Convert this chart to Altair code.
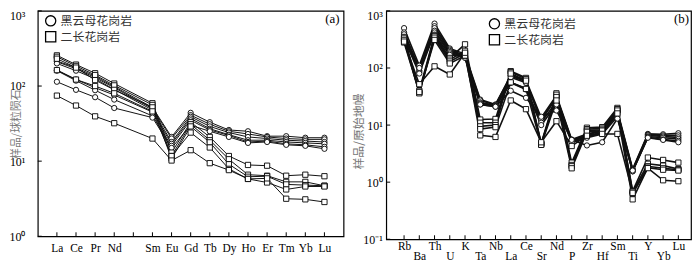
import json
import altair as alt
import pandas as pd

BG = "黑云母花岗岩"
MG = "二长花岗岩"
LEGEND_LABELS = [BG, MG]

# ---------------- panel (a): chondrite-normalised REE ----------------
REE_TICK_LABELS = ["La", "Ce", "Pr", "Nd", "", "Sm", "Eu", "Gd", "Tb", "Dy", "Ho", "Er", "Tm", "Yb", "Lu"]
REE_POSITIONS = [0, 1, 2, 3, 5, 6, 7, 8, 9, 10, 11, 12, 13, 14]

REE_BT1 = [215, 176, 135, 98, 52, 21, 44, 33, 26, 25, 21.5, 21.5, 20.5, 20.5]
REE_BT2 = [210, 170, 130, 95, 50, 20, 41, 31, 25, 23, 21, 20, 19.5, 19.5]
REE_BT3 = [200, 160, 125, 90, 48, 18, 39, 29, 24, 21, 20, 19, 18.5, 18]
REE_BT4 = [163, 122, 95, 76, 45, 17, 37, 27, 22.5, 19, 19, 18, 17.5, 17]
REE_BT5 = [160, 118, 88, 66, 40, 16, 35, 26, 22, 18, 18.5, 17, 16.5, 15.5]
REE_BT6 = [114, 89, 71, 51, 38, 15, 30, 25, 21, 17.5, 18, 16.5, 16, 14.6]

REE_MZ1 = [256, 193, 148, 108, 59, 13, 33, 21, 11.7, 8.9, 8.7, 6.4, 6.6, 6.3]
REE_MZ2 = [245, 185, 140, 102, 56, 11.7, 31, 19, 10.6, 6.6, 6.4, 5.3, 5.3, 4.7]
REE_MZ3 = [231, 176, 120, 89, 52, 10.8, 29, 17.8, 9.1, 6.2, 6.3, 4.9, 4.8, 4.7]
REE_MZ4 = [163, 122, 100, 80, 46, 11.7, 24, 15.2, 7.9, 5.8, 5.2, 4.2, 4.6, 4.6]
REE_MZ5 = [74.5, 55, 39.5, 32, 20, 10.2, 14, 9.4, 7.6, 5.8, 5.9, 3.16, 3.1, 2.86]

# ---------------- panel (b): primitive-mantle-normalised spider ----------------
SP_TICK_LABELS = ["Rb", "Ba", "Th", "U", "K", "Ta", "Nb", "La", "Ce", "Sr",
                  "Nd", "P", "Zr", "Hf", "Sm", "Ti", "Y", "Yb", "Lu"]
SP_POSITIONS = list(range(19))

SP_BT1 = [500, 110, 600, 220, 175, 28, 23, 74, 61, 13.5, 33, 5.6, 7.0, 8.0, 18, 1.7, 7.0, 6.9, 7.2]
SP_BT2 = [420, 100, 540, 210, 165, 27, 22.5, 72, 58, 12.5, 31, 5.4, 6.8, 7.8, 17, 1.65, 6.8, 6.6, 6.6]
SP_BT3 = [390, 90, 500, 200, 160, 25, 22, 69, 55, 12, 30, 5.3, 6.5, 7.5, 16.5, 1.6, 6.6, 6.3, 6.1]
SP_BT4 = [350, 85, 450, 190, 155, 24, 21.5, 56, 44, 11, 26, 5.2, 6.3, 7.2, 15.5, 1.55, 6.3, 6.0, 5.7]
SP_BT5 = [330, 80, 420, 180, 150, 23, 21, 55, 42, 10, 23, 5.0, 6.0, 7.0, 14, 1.55, 6.1, 5.6, 5.3]
SP_BT6 = [300, 100, 380, 170, 160, 23, 21, 40, 30, 14, 18, 5.5, 4.4, 5.0, 13, 1.6, 6.0, 5.5, 5.0]

SP_MZ1 = [350, 40, 380, 150, 260, 12.5, 12.8, 88, 67, 4.8, 36, 2.2, 9.0, 9.2, 20, 0.7, 2.7, 2.45, 2.2]
SP_MZ2 = [330, 37, 360, 140, 200, 11, 11, 85, 64, 4.7, 34, 2.0, 8.5, 8.7, 19, 0.68, 2.1, 1.95, 1.7]
SP_MZ3 = [310, 36, 340, 130, 180, 9.5, 10, 80, 60, 4.6, 31, 1.9, 8.0, 8.3, 18, 0.62, 1.9, 1.75, 1.65]
SP_MZ4 = [280, 38, 310, 120, 165, 8.5, 9.2, 56, 43, 4.5, 27, 1.75, 7.6, 8.0, 16, 0.5, 1.8, 1.65, 1.6]
SP_MZ5 = [290, 52, 107, 77, 185, 6.6, 6.2, 27, 19, 5.0, 11.7, 4.3, 6.5, 7.0, 7.0, 0.65, 1.76, 1.08, 1.04]

SERIF = "Liberation Serif"
CJK = "Noto Sans CJK SC"

SUP_EXPR = ("datum.value >= 999 ? '10\u00b3' : datum.value >= 99 ? '10\u00b2' : "
            "datum.value >= 9 ? '10\u00b9' : datum.value >= 0.9 ? '10\u2070' : '10\u207b\u00b9'")

SHAPE_SCALE = alt.Scale(domain=[BG, MG], range=["circle", "square"])


def long_df(positions, series):
    rows = []
    for name, grp, vals in series:
        for p, v in zip(positions, vals):
            rows.append({"sample": name, "group": grp, "pos": p, "val": v})
    return pd.DataFrame(rows)


def panel(df, tick_labels, x_domain, y_domain, y_ticks, W, H, tag, ytitle,
          title_x, title_dy, title_fs, ylab_pad, xlab_pad, leg_x, leg_y, line_w, tag_dx, tag_y):
    n = len(tick_labels)
    xs = alt.Scale(domain=x_domain, nice=False, zero=False)
    ys = alt.Scale(type="log", domain=y_domain, nice=False)
    xaxis = alt.Axis(values=list(range(n)), labelExpr=json.dumps(tick_labels) + "[datum.value]",
                     ticks=False, domain=False, grid=False, labelFont=SERIF, labelFontSize=11.5,
                     labelColor="black", labelPadding=xlab_pad, labelOverlap=False,
                     labelAngle=0, title=None)
    yaxis = alt.Axis(values=y_ticks, labelExpr=SUP_EXPR, ticks=False, domain=False, grid=False,
                     labelFont=SERIF, labelFontSize=12, labelColor="black", labelPadding=ylab_pad,
                     labelBaseline={"condition": {"test": "datum.value >= 999", "value": "top"},
                                    "value": "middle"},
                     title=ytitle, titleFont=CJK, titleFontSize=title_fs, titleFontWeight="normal",
                     titleColor="#777777", titleX=title_x, titleY=H / 2 + title_dy, titleAngle=-90,
                     titleBaseline="middle", titleAlign="center")
    x = alt.X("pos:Q", scale=xs, axis=xaxis)
    y = alt.Y("val:Q", scale=ys, axis=yaxis)
    base = alt.Chart(df)
    lines = base.mark_line(color="#111111", strokeWidth=line_w).encode(
        x=x, y=y, detail="sample:N", order="pos:Q")
    pts = base.mark_point(filled=False, fill="white", fillOpacity=1, stroke="black",
                          strokeWidth=0.9, size=28, opacity=1).encode(
        x=x, y=y, shape=alt.Shape("group:N", scale=SHAPE_SCALE, legend=None))
    xt = alt.Chart(pd.DataFrame({"pos": list(range(n))})).mark_rule(
        color="black", strokeWidth=1).encode(x=x, y=alt.value(H), y2=alt.value(H - 4))
    yt = alt.Chart(pd.DataFrame({"val": y_ticks})).mark_rule(
        color="black", strokeWidth=1).encode(y=y, x=alt.value(0), x2=alt.value(4))
    tg = alt.Chart(pd.DataFrame({"t": [tag]})).mark_text(
        font=SERIF, fontSize=13, align="right", baseline="middle", color="black").encode(
        text="t:N", x=alt.value(W - tag_dx), y=alt.value(tag_y))
    layers = [lines, pts, xt, yt, tg]
    # hand-drawn legend (two rows)
    for i, name in enumerate(LEGEND_LABELS):
        ldf = pd.DataFrame({"group": [name]})
        layers.append(alt.Chart(ldf).mark_point(
            filled=False, fill="white", fillOpacity=1, stroke="black", strokeWidth=1.3,
            size=105, opacity=1).encode(
            shape=alt.Shape("group:N", scale=SHAPE_SCALE, legend=None),
            x=alt.value(leg_x), y=alt.value(leg_y + 16 * i)))
        layers.append(alt.Chart(ldf).mark_text(
            font=CJK, fontSize=12, align="left", baseline="middle", color="#333333").encode(
            text="group:N", x=alt.value(leg_x + 10), y=alt.value(leg_y + 16 * i)))
    return alt.layer(*layers).properties(width=W, height=H)


df_a = long_df(REE_POSITIONS, [
    ("BT1", BG, REE_BT1), ("BT2", BG, REE_BT2), ("BT3", BG, REE_BT3),
    ("BT4", BG, REE_BT4), ("BT5", BG, REE_BT5), ("BT6", BG, REE_BT6),
    ("MZ1", MG, REE_MZ1), ("MZ2", MG, REE_MZ2), ("MZ3", MG, REE_MZ3),
    ("MZ4", MG, REE_MZ4), ("MZ5", MG, REE_MZ5)])

df_b = long_df(SP_POSITIONS, [
    ("BT1", BG, SP_BT1), ("BT2", BG, SP_BT2), ("BT3", BG, SP_BT3),
    ("BT4", BG, SP_BT4), ("BT5", BG, SP_BT5), ("BT6", BG, SP_BT6),
    ("MZ1", MG, SP_MZ1), ("MZ2", MG, SP_MZ2), ("MZ3", MG, SP_MZ3),
    ("MZ4", MG, SP_MZ4), ("MZ5", MG, SP_MZ5)])

pa = panel(df_a, REE_TICK_LABELS, [-1, 15], [1, 1000], [1, 10, 100, 1000], 308, 227, "(a)",
           "样品/球粒陨石", -21, 0, 11, 13, 6, 13, 10, 1.0, 4, 8)

pb = panel(df_b, SP_TICK_LABELS, [-1.17, 18.83], [0.1, 1000], [0.1, 1, 10, 100, 1000], 307, 230,
           "(b)", "样品/原始地幔", -28, 6, 12, 4,
           {"condition": {"test": "datum.value % 2 == 1", "value": 11}, "value": 1},
           109, 13, 1.6, 2, 8)

chart = alt.hconcat(pa, pb, spacing=7).resolve_scale(
    x="independent", y="independent").properties(
    padding=0, background="white").configure_view(stroke="black", strokeWidth=1.2)

chart.save("out.html", embed_options={"renderer": "svg", "actions": False})
